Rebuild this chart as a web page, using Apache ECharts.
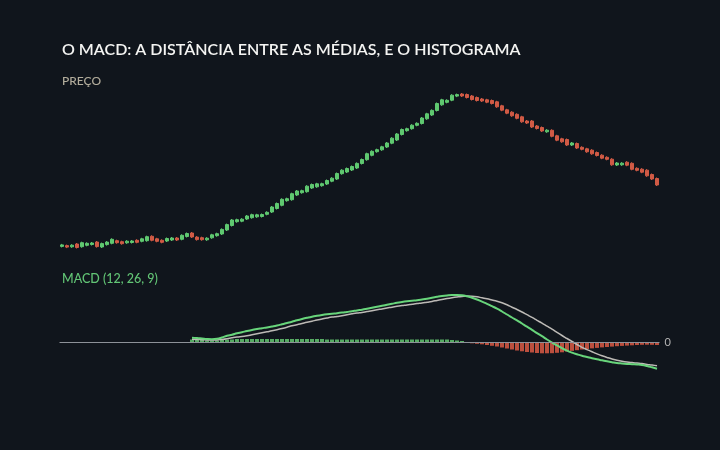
<!DOCTYPE html>
<html>
<head>
<meta charset="utf-8">
<script src="https://cdn.jsdelivr.net/npm/echarts@6/dist/echarts.min.js"></script>
<style>
  html, body { margin: 0; padding: 0; background: #10151c; }
  #chart { width: 720px; height: 450px; }
</style>
</head>
<body>
<div id="chart"></div>
<script>
// preço: abertura, fecho, mínimo, máximo (120 sessões)
const openPx = [
  53.6,54.4,53.2,56.0,53.3,54.7,55.5,58.0,53.0,55.4,
  56.7,59.3,58.3,57.2,57.5,59.7,58.7,59.3,63.7,61.2,
  59.7,59.0,60.0,62.0,60.7,63.5,67.0,62.9,62.3,60.2,
  62.2,64.3,66.0,70.0,74.5,78.3,78.8,81.0,82.3,83.2,
  83.5,85.7,88.0,91.5,94.7,99.3,100.3,105.0,107.3,108.3,
  112.0,113.2,114.3,116.0,118.8,121.0,126.3,128.0,130.0,132.0,
  136.5,140.3,144.7,148.3,150.2,153.0,156.8,160.0,165.5,169.3,
  171.3,174.7,176.5,181.2,185.0,189.5,195.2,197.7,199.8,203.9,
  206.0,205.5,204.0,202.5,201.0,200.2,199.5,198.2,194.2,190.2,
  187.8,185.7,183.2,179.0,179.0,174.0,172.5,168.2,169.7,164.2,
  161.2,160.5,155.0,156.5,152.7,151.2,149.8,147.5,144.8,142.7,
  140.8,135.0,135.2,137.8,136.7,131.7,130.8,129.8,125.5,121.5
];
const closePx = [
  55.1,52.9,54.8,52.5,57.3,56.7,57.0,53.4,56.4,57.9,
  60.7,57.3,56.3,58.8,59.0,57.7,61.2,63.3,59.7,58.7,
  57.7,61.5,62.0,60.0,64.7,66.5,63.0,60.4,60.3,61.8,
  65.2,66.3,70.6,75.4,80.0,80.3,80.8,84.0,85.3,85.2,
  85.5,87.7,93.0,96.5,100.7,101.3,106.3,109.0,109.3,113.8,
  115.5,116.2,116.3,119.5,121.8,126.5,129.8,131.5,133.5,136.6,
  140.5,146.3,148.7,150.3,153.2,157.0,161.8,166.0,170.5,171.3,
  174.8,176.7,182.0,186.2,189.6,196.5,200.2,199.7,204.8,205.4,
  204.0,202.5,200.5,199.5,199.0,197.8,196.5,193.2,189.8,186.8,
  184.2,181.7,178.2,177.0,173.0,171.5,169.0,169.8,163.7,159.8,
  158.2,155.0,157.0,152.0,150.7,148.2,146.2,144.5,141.8,140.7,
  135.2,137.0,136.8,134.8,130.7,129.7,127.8,124.2,121.0,115.0
];
const lowPx = [
  52.6,51.9,52.2,51.5,52.3,53.7,54.5,52.4,52.0,54.4,
  55.7,56.3,55.3,56.2,56.5,56.7,57.7,58.3,58.7,57.7,
  56.7,58.0,59.0,59.0,59.7,62.5,62.0,59.4,59.3,59.2,
  61.2,63.3,65.0,69.0,73.5,77.3,77.8,80.0,81.3,82.2,
  82.5,84.7,87.0,90.5,93.7,98.3,99.3,104.0,106.3,107.3,
  111.0,112.2,113.3,115.0,117.8,120.0,125.3,127.0,129.0,131.0,
  135.5,139.3,143.7,147.3,149.2,152.0,155.8,159.0,164.5,168.3,
  170.3,173.7,175.5,180.2,184.0,188.5,194.2,196.7,198.8,202.9,
  203.0,201.5,199.5,198.5,198.0,196.8,195.5,192.2,188.8,185.8,
  183.2,180.7,177.2,176.0,172.0,170.5,168.0,167.2,162.7,158.8,
  157.2,154.0,154.0,151.0,149.7,147.2,145.2,143.5,140.8,139.7,
  134.2,134.0,134.2,133.8,129.7,128.7,126.8,123.2,120.0,114.0
];
const highPx = [
  56.1,55.4,55.8,57.0,58.3,57.7,58.0,59.0,57.4,58.9,
  61.7,60.3,59.3,59.8,60.0,60.7,62.2,64.3,64.7,62.2,
  60.7,62.5,63.0,63.0,65.7,67.5,68.0,63.9,63.3,62.8,
  66.2,67.3,71.6,76.4,81.0,81.3,81.8,85.0,86.3,86.2,
  86.5,88.7,94.0,97.5,101.7,102.3,107.3,110.0,110.3,114.8,
  116.5,117.2,117.3,120.5,122.8,127.5,130.8,132.5,134.5,137.6,
  141.5,147.3,149.7,151.3,154.2,158.0,162.8,167.0,171.5,172.3,
  175.8,177.7,183.0,187.2,190.6,197.5,201.2,200.7,205.8,206.4,
  207.0,206.5,205.0,203.5,202.0,201.2,200.5,199.2,195.2,191.2,
  188.8,186.7,184.2,180.0,180.0,175.0,173.5,170.8,170.7,165.2,
  162.2,161.5,158.0,157.5,153.7,152.2,150.8,148.5,145.8,143.7,
  141.8,138.0,137.8,138.8,137.7,132.7,131.8,130.8,126.5,122.5
];

// MACD (12, 26, 9): valores a partir da sessão 26
const macdStart = 26;
const macdLine = [
  4.3,4.0,3.5,3.0,2.8,3.2,4.5,6.2,7.3,8.7,
  9.8,11.0,12.0,13.0,13.8,14.6,15.5,16.5,17.7,19.0,
  20.3,21.7,23.0,24.2,25.3,26.2,27.0,27.7,28.3,28.8,
  29.4,30.1,30.8,31.6,32.3,33.2,34.2,35.3,36.2,37.2,
  38.2,39.2,40.0,40.7,41.3,41.8,42.5,43.3,44.3,45.2,
  46.0,46.6,47.0,47.1,46.8,45.8,44.3,42.5,40.3,38.2,
  35.8,33.3,30.5,27.5,24.5,21.7,18.5,15.3,12.2,8.8,
  5.8,2.5,-0.5,-3.4,-6.2,-8.6,-10.6,-12.3,-13.8,-15.0,
  -16.2,-17.3,-18.3,-19.3,-20.2,-21.0,-21.5,-21.9,-22.2,-22.5,
  -23.0,-24.0,-25.3,-26.7
];
const signalLine = [
  2.7,2.5,2.3,2.1,2.0,2.1,2.6,3.3,4.2,5.0,
  5.6,6.2,7.2,8.2,9.2,10.2,11.2,12.3,13.5,14.8,
  16.2,17.3,18.5,19.7,20.8,22.0,23.0,24.0,24.9,25.6,
  26.3,27.3,28.2,29.0,29.6,30.4,31.2,32.3,33.1,34.0,
  34.8,35.7,36.4,37.0,37.7,38.4,39.0,39.8,40.6,41.6,
  42.6,43.5,44.3,45.0,45.6,46.0,45.8,45.2,44.2,43.2,
  42.0,40.8,39.2,37.2,34.8,32.5,30.0,27.3,24.6,21.7,
  18.8,15.8,12.8,9.6,6.5,3.5,0.5,-2.5,-5.3,-7.6,
  -9.8,-11.9,-13.8,-15.5,-17.0,-18.2,-19.2,-20.0,-20.6,-21.1,
  -21.6,-22.4,-23.0,-23.8
];
const histBars = [
  2.5,2.5,2.0,1.5,1.5,1.5,2.0,2.5,2.5,3.0,
  3.0,3.0,3.0,3.0,3.0,3.0,3.0,3.0,3.0,3.0,
  3.0,3.0,3.0,3.0,3.0,3.0,3.0,2.5,2.5,2.5,
  2.5,2.5,2.5,2.5,2.5,2.5,2.5,2.5,2.5,2.5,
  2.5,2.5,2.5,2.5,2.5,2.5,2.5,2.5,2.5,2.5,
  2.5,2.5,2.0,1.5,1.0,-0.8,-1.3,-1.8,-2.3,-3.0,
  -3.8,-4.5,-5.5,-6.5,-7.5,-8.5,-9.3,-10.0,-10.5,-11.0,
  -11.3,-11.3,-11.2,-10.8,-10.3,-9.6,-8.9,-8.2,-7.5,-7.0,
  -6.4,-5.9,-5.4,-5.0,-4.6,-4.2,-3.9,-3.6,-3.3,-3.0,
  -2.8,-2.7,-2.8,-3.0
];

const days = openPx.map((_, i) => 'D' + (i + 1));
const pad = new Array(macdStart).fill('-');

const GREEN = '#5fc870';
const RED = '#d05a45';

let chart = echarts.init(document.getElementById('chart'));
chart.setOption({
  backgroundColor: '#10151c',
  animation: false,
  title: [
    { text: 'O MACD: A DISTÂNCIA ENTRE AS MÉDIAS, E O HISTOGRAMA', left: 57, top: 37,
      textStyle: { color: '#f4f4f2', fontSize: 16, fontWeight: 600, fontFamily: 'Lato' } },
    { text: 'PREÇO', left: 57, top: 70,
      textStyle: { color: '#b3ad9c', fontSize: 12, fontWeight: 500, fontFamily: 'Lato' } },
    { text: 'MACD (12, 26, 9)', left: 57, top: 267,
      textStyle: { color: '#62c475', fontSize: 12.5, fontWeight: 500, fontFamily: 'Lato' } }
  ],
  grid: [
    { left: 59.5, width: 600, top: 90, height: 160 },
    { left: 59.5, width: 600, top: 285, height: 90 }
  ],
  xAxis: [
    { type: 'category', data: days, gridIndex: 0, boundaryGap: true, show: false },
    { type: 'category', data: days, gridIndex: 1, boundaryGap: true, show: false }
  ],
  yAxis: [
    { type: 'value', gridIndex: 0, min: 50, max: 210, show: false, splitLine: { show: false } },
    { type: 'value', gridIndex: 1, min: -33, max: 57, show: false, splitLine: { show: false } }
  ],
  series: [
    {
      type: 'candlestick',
      xAxisIndex: 0, yAxisIndex: 0,
      barWidth: 3,
      data: openPx.map((o, i) => [o, closePx[i], lowPx[i], highPx[i]]),
      itemStyle: { color: GREEN, color0: RED, borderColor: GREEN, borderColor0: RED, borderWidth: 1 }
    },
    {
      type: 'bar',
      xAxisIndex: 1, yAxisIndex: 1,
      barWidth: 4,
      data: pad.concat(histBars),
      itemStyle: { color: (p) => p.value >= 0 ? '#56aa63' : '#bb4f3e' },
      markLine: {
        silent: true,
        symbol: 'none',
        lineStyle: { color: '#8d9198', width: 1, type: 'solid' },
        label: { show: true, position: 'end', formatter: '0', color: '#b5b5b5', fontSize: 11, fontFamily: 'Lato' },
        data: [{ yAxis: 0 }]
      }
    },
    {
      type: 'line',
      xAxisIndex: 1, yAxisIndex: 1,
      data: pad.concat(signalLine),
      symbol: 'none', smooth: true,
      lineStyle: { color: '#bdbab6', width: 1.5 }
    },
    {
      type: 'line',
      xAxisIndex: 1, yAxisIndex: 1,
      data: pad.concat(macdLine),
      symbol: 'none', smooth: true,
      lineStyle: { color: '#68d57b', width: 2 }
    }
  ]
});
window.addEventListener('resize', () => { chart.resize() });
</script>
</body>
</html>
